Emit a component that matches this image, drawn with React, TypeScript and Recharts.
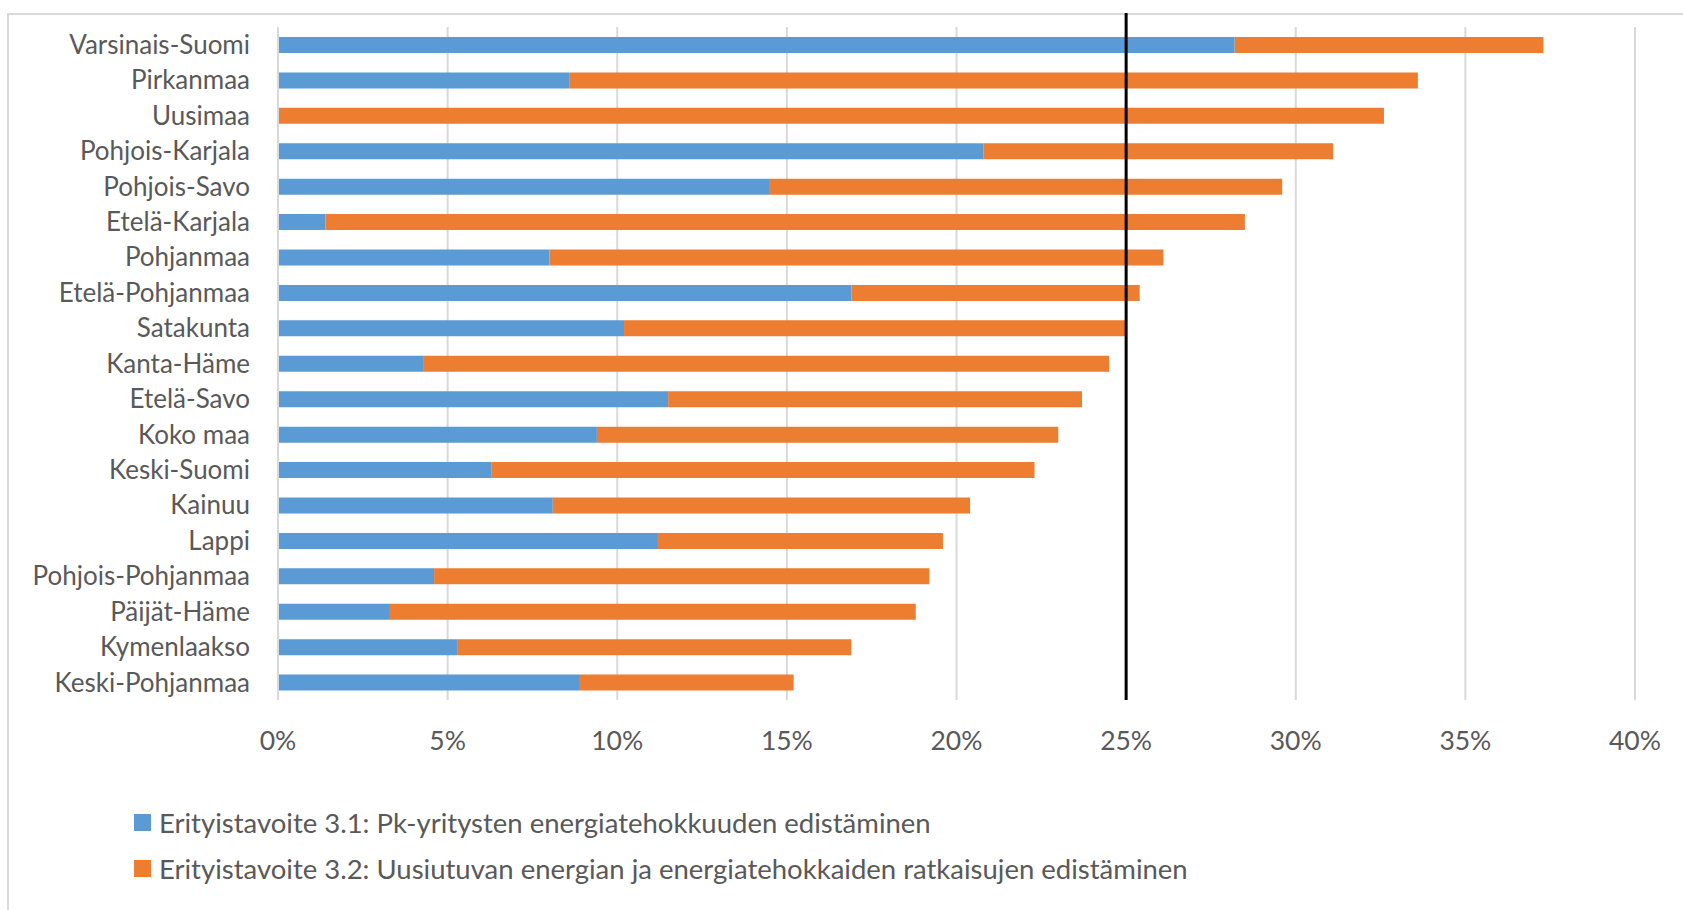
import React from "react";
import { BarChart, Bar, XAxis, YAxis, CartesianGrid, ReferenceLine } from "recharts";

const regions = [
  "Varsinais-Suomi",
  "Pirkanmaa",
  "Uusimaa",
  "Pohjois-Karjala",
  "Pohjois-Savo",
  "Etelä-Karjala",
  "Pohjanmaa",
  "Etelä-Pohjanmaa",
  "Satakunta",
  "Kanta-Häme",
  "Etelä-Savo",
  "Koko maa",
  "Keski-Suomi",
  "Kainuu",
  "Lappi",
  "Pohjois-Pohjanmaa",
  "Päijät-Häme",
  "Kymenlaakso",
  "Keski-Pohjanmaa",
];

// osuudet prosentteina
const target31 = [28.2, 8.6, 0, 20.8, 14.5, 1.4, 8.0, 16.9, 10.2, 4.3, 11.5, 9.4, 6.3, 8.1, 11.2, 4.6, 3.3, 5.3, 8.9];
const target32 = [9.1, 25.0, 32.6, 10.3, 15.1, 27.1, 18.1, 8.5, 14.8, 20.2, 12.2, 13.6, 16.0, 12.3, 8.4, 14.6, 15.5, 11.6, 6.3];

const xTicks = [0, 5, 10, 15, 20, 25, 30, 35, 40];
const goal = 25;

const seriesNames = [
  "Erityistavoite 3.1: Pk-yritysten energiatehokkuuden edistäminen",
  "Erityistavoite 3.2: Uusiutuvan energian ja energiatehokkaiden ratkaisujen edistäminen",
];

const BLUE = "#5B9BD5";
const ORANGE = "#ED7D31";
const TEXT = "#595959";
const FONT = "Lato, 'Open Sans', sans-serif";

const data = regions.map((name, i) => ({ name, t31: target31[i], t32: target32[i] }));

const GoalLine = (p: any) => {
  const top = Math.min(p.y1, p.y2);
  const bottom = Math.max(p.y1, p.y2);
  return <line x1={p.x1} x2={p.x2} y1={top - 14} y2={bottom} stroke="#000" strokeWidth={3} />;
};

export default function App() {
  return (
    <div style={{ position: "absolute", left: 0, top: 0, width: 1683, height: 910, overflow: "hidden", background: "#fff" }}>
      <div
        style={{
          position: "absolute",
          left: 7,
          top: 13,
          width: 1700,
          height: 920,
          borderLeft: "2px solid #D9D9D9",
          borderTop: "2px solid #D9D9D9",
        }}
      />
      <div style={{ position: "absolute", left: 0, top: 0 }}>
        <BarChart
          width={1683}
          height={910}
          data={data}
          layout="vertical"
          margin={{ top: 27, right: 48, bottom: 150, left: 0 }}
          barSize={16}
        >
          <CartesianGrid horizontal={false} vertical stroke="#D9D9D9" strokeWidth={2} />
          <XAxis
            type="number"
            domain={[0, 40]}
            ticks={xTicks}
            tickFormatter={(v) => `${v}%`}
            axisLine={false}
            tickLine={false}
            tickSize={0}
            tickMargin={31}
            height={60}
            tick={{ fill: TEXT, fontSize: 26.5, fontFamily: FONT }}
            interval={0}
          />
          <YAxis
            type="category"
            dataKey="name"
            width={278}
            axisLine={{ stroke: "#D9D9D9", strokeWidth: 2 }}
            tickLine={false}
            tickSize={0}
            tickMargin={28}
            tick={{ fill: TEXT, fontSize: 26, fontFamily: FONT }}
            interval={0}
          />
          <Bar dataKey="t31" stackId="a" fill={BLUE} isAnimationActive={false} />
          <Bar dataKey="t32" stackId="a" fill={ORANGE} isAnimationActive={false} />
          <ReferenceLine x={goal} shape={GoalLine} ifOverflow="visible" />
        </BarChart>
      </div>
      <div style={{ position: "absolute", left: 134, top: 799, fontFamily: FONT, fontSize: 27.5, color: TEXT }}>
        {[BLUE, ORANGE].map((c, i) => (
          <div key={i} style={{ display: "flex", alignItems: "center", height: 46, whiteSpace: "nowrap" }}>
            <span style={{ width: 17, height: 17, background: c, display: "inline-block", marginRight: 8 }} />
            <span>{seriesNames[i]}</span>
          </div>
        ))}
      </div>
    </div>
  );
}
